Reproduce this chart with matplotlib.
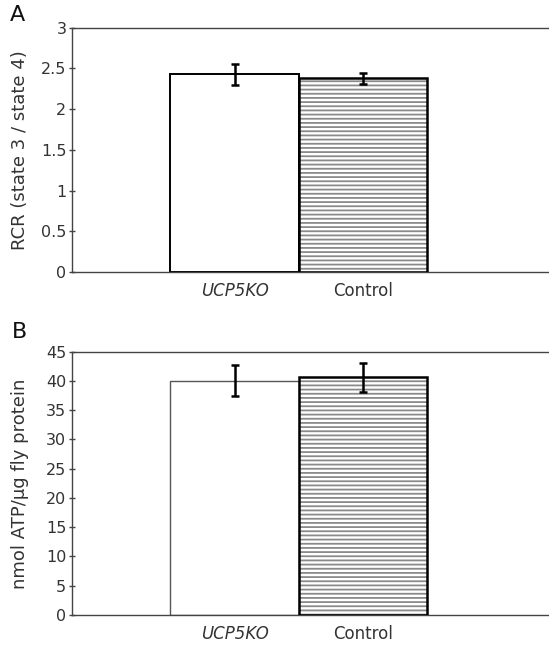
import numpy as np
import matplotlib
matplotlib.use("Agg")
import matplotlib.pyplot as plt

groups = ["UCP5KO", "Control"]
rcr_vals = [2.43, 2.38]
rcr_err = [0.13, 0.065]
atp_vals = [40.0, 40.6]
atp_err = [2.65, 2.55]

TXT = "#333333"
plt.rcParams["font.family"] = ["DejaVu Sans"]
plt.rcParams["hatch.linewidth"] = 1.3


def panel(ax, vals, errs, ymax, step, ylabel, letter, letter_xy, edge_ko):
    x = np.arange(len(vals))
    # white bar
    ax.bar(x[0], vals[0], width=1.0, color="white", edgecolor=edge_ko[0],
           linewidth=edge_ko[1], zorder=2)
    # hatched bar: gray hatch, then black outline on top
    ax.bar(x[1], vals[1], width=1.0, color="white", edgecolor="#8a8a8a",
           hatch="----", linewidth=0, zorder=2)
    ax.bar(x[1], vals[1], width=1.0, fill=False, edgecolor="black",
           linewidth=1.8, zorder=3)
    ax.errorbar(x, vals, yerr=errs, fmt="none", ecolor="black",
                elinewidth=1.8, capsize=2.8, capthick=1.8, zorder=4)

    ax.set_xlim(-1.265, 2.447)
    ax.set_ylim(0, ymax)
    ticks = np.arange(0, ymax + step / 2, step)
    ax.set_yticks(ticks)
    ax.set_yticklabels(["%g" % v for v in ticks])
    ax.set_xticks(x)
    ax.set_xticklabels(groups)
    ax.get_xticklabels()[0].set_style("italic")
    ax.tick_params(axis="x", length=0, pad=7, labelsize=12, labelcolor=TXT)
    ax.tick_params(axis="y", length=5, direction="inout", width=1,
                   labelsize=11.5, labelcolor=TXT, color="#444444", pad=1.5)
    ax.spines["right"].set_visible(False)
    for s in ["left", "top", "bottom"]:
        ax.spines[s].set_color("#444444")
        ax.spines[s].set_linewidth(1.0)
    ax.set_ylabel(ylabel, fontsize=13, color=TXT)
    ax.yaxis.set_label_coords(-0.09, 0.5)
    ax.text(letter_xy[0], letter_xy[1], letter, transform=ax.transAxes,
            fontsize=16, color="#111111", ha="center", va="center")


fig = plt.figure(figsize=(5.49, 6.46), dpi=100)
ax1 = fig.add_axes([0.131, 0.579, 0.869, 0.378])
ax2 = fig.add_axes([0.131, 0.048, 0.869, 0.4076])

panel(ax1, rcr_vals, rcr_err, 3, 0.5, "RCR (state 3 / state 4)", "A",
      (-0.115, 1.053), ("black", 1.4))
panel(ax2, atp_vals, atp_err, 45, 5, "nmol ATP/µg fly protein", "B",
      (-0.110, 1.075), ("#555555", 1.0))

fig.savefig("out.png", dpi=100)
